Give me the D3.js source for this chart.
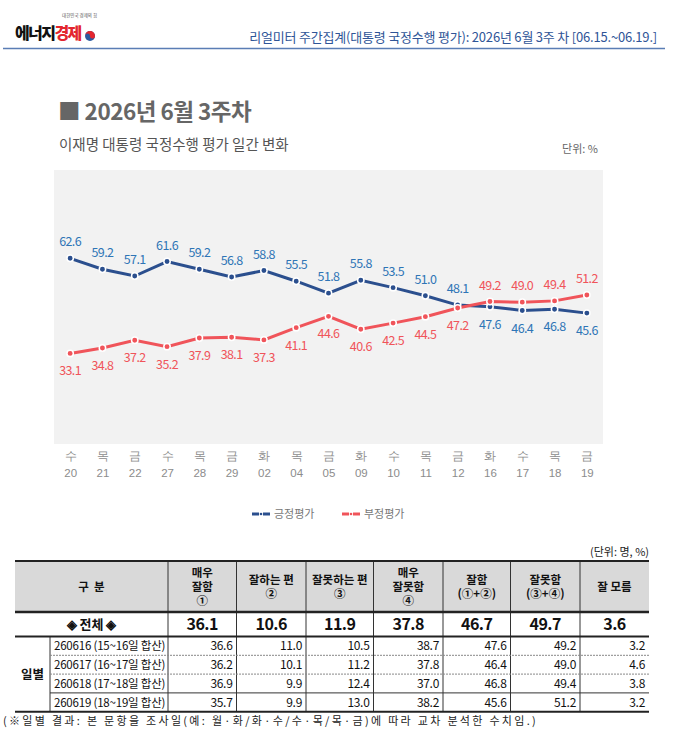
<!DOCTYPE html>
<html>
<head>
<meta charset="utf-8">
<script src="https://cdn.jsdelivr.net/npm/d3@7"></script>
<style>
  body { margin: 0; background: #fff; }
  svg { display: block; font-family: "Noto Sans CJK KR", "Noto Sans", sans-serif; }
</style>
</head>
<body>
<div id="chart"></div>
<script>
var svgWidth = 679;
var svgHeight = 754;

// daily approval data
var weekdays = ["수", "목", "금", "수", "목", "금", "화", "목", "금", "화", "수", "목", "금", "화", "수", "목", "금"];
var days = ["20", "21", "22", "27", "28", "29", "02", "04", "05", "09", "10", "11", "12", "16", "17", "18", "19"];
var positive = [62.6, 59.2, 57.1, 61.6, 59.2, 56.8, 58.8, 55.5, 51.8, 55.8, 53.5, 51.0, 48.1, 47.6, 46.4, 46.8, 45.6];
var negative = [33.1, 34.8, 37.2, 35.2, 37.9, 38.1, 37.3, 41.1, 44.6, 40.6, 42.5, 44.5, 47.2, 49.2, 49.0, 49.4, 51.2];

// table data
var tableHeaders = [["구  분"], ["매우", "잘함", "①"], ["잘하는 편", "②"], ["잘못하는 편", "③"], ["매우", "잘못함", "④"], ["잘함", "(①+②)"], ["잘못함", "(③+④)"], ["잘 모름"]];
var totalRow = [36.1, 10.6, 11.9, 37.8, 46.7, 49.7, 3.6];
var dailyLabels = ["260616 (15~16일 합산)", "260617 (16~17일 합산)", "260618 (17~18일 합산)", "260619 (18~19일 합산)"];
var dailyRows = [
  [36.6, 11.0, 10.5, 38.7, 47.6, 49.2, 3.2],
  [36.2, 10.1, 11.2, 37.8, 46.4, 49.0, 4.6],
  [36.9, 9.9, 12.4, 37.0, 46.8, 49.4, 3.8],
  [35.7, 9.9, 13.0, 38.2, 45.6, 51.2, 3.2]
];

var posColor = "#2b4f8e";
var posLabel = "#2e75b6";
var negColor = "#f0545a";

var svg = d3.select("#chart")
  .append("svg")
  .attr("width", svgWidth)
  .attr("height", svgHeight);

// ---- header ----
svg.append("text")
  .attr("x", 62).attr("y", 17)
  .attr("font-size", 4.5).attr("fill", "#555")
  .text("대한민국 경제의 힘");
var logo = svg.append("text")
  .attr("x", 15).attr("y", 39)
  .attr("font-size", 16).attr("font-weight", 900)
  .attr("letter-spacing", -1.6);
logo.append("tspan").attr("fill", "#111").text("에너지");
logo.append("tspan").attr("fill", "#e3262e").text("경제");
svg.append("circle").attr("cx", 90).attr("cy", 36).attr("r", 5).attr("fill", "#2c5aa0");
svg.append("path").attr("d", "M85,36 a5,5 0 0,1 10,0 a2.5,2.5 0 0,1 -5,0 a2.5,2.5 0 0,0 -5,0z").attr("fill", "#e3262e");

svg.append("text")
  .attr("x", 657).attr("y", 42)
  .attr("text-anchor", "end")
  .attr("font-size", 13).attr("fill", "#2f5597")
  .attr("letter-spacing", -0.2)
  .text("리얼미터 주간집계(대통령  국정수행  평가): 2026년 6월 3주 차 [06.15.~06.19.]");
svg.append("line")
  .attr("x1", 3).attr("x2", 665).attr("y1", 48.5).attr("y2", 48.5)
  .attr("stroke", "#5a7db5").attr("stroke-width", 1.5);

// ---- titles ----
svg.append("text")
  .attr("x", 58).attr("y", 120)
  .attr("font-size", 22.5).attr("font-weight", "bold").attr("fill", "#666")
  .attr("letter-spacing", -0.5)
  .text("■ 2026년 6월 3주차");
svg.append("text")
  .attr("x", 59).attr("y", 150)
  .attr("font-size", 14.5).attr("fill", "#555")
  .text("이재명 대통령 국정수행 평가 일간 변화");
svg.append("text")
  .attr("x", 598).attr("y", 153)
  .attr("text-anchor", "end")
  .attr("font-size", 11).attr("fill", "#666")
  .text("단위: %");

// ---- chart ----
var plot = { left: 54, right: 603, top: 170, bottom: 444 };

svg.append("rect")
  .attr("x", plot.left).attr("y", plot.top)
  .attr("width", plot.right - plot.left).attr("height", plot.bottom - plot.top)
  .attr("fill", "#f2f2f2");

var xScale = d3.scalePoint()
  .domain(d3.range(days.length))
  .range([plot.left, plot.right])
  .padding(0.5);

var yScale = d3.scaleLinear()
  .domain([5, 90])
  .range([plot.bottom, plot.top]);

var xAxis = d3.axisBottom(xScale).tickSize(0).tickFormat("");
var axisG = svg.append("g")
  .attr("transform", `translate(0, ${plot.bottom})`)
  .call(xAxis);
axisG.select(".domain").remove();
var tickText = axisG.selectAll(".tick").append("text")
  .attr("text-anchor", "middle")
  .attr("fill", "#8c8c8c")
  .attr("font-size", 11.5);
tickText.append("tspan").attr("x", 0).attr("y", 16).text(i => weekdays[i]);
tickText.append("tspan").attr("x", 0).attr("y", 33).text(i => days[i]);

var lineGen = d3.line()
  .x((d, i) => xScale(i))
  .y(d => yScale(d));

function drawSeries(values, lineColor, labelColor, labelAbove) {
  svg.append("path")
    .datum(values)
    .attr("fill", "none")
    .attr("stroke", lineColor)
    .attr("stroke-width", 3)
    .attr("d", lineGen);

  svg.append("g").selectAll("circle")
    .data(values)
    .enter()
    .append("circle")
    .attr("cx", (d, i) => xScale(i))
    .attr("cy", d => yScale(d))
    .attr("r", 3.2)
    .attr("fill", lineColor)
    .attr("stroke", "#fff")
    .attr("stroke-width", 1.5);

  svg.append("g").selectAll("text")
    .data(values)
    .enter()
    .append("text")
    .attr("x", (d, i) => xScale(i))
    .attr("y", (d, i) => yScale(d) + (labelAbove(i) ? -12 : 22))
    .attr("text-anchor", "middle")
    .attr("font-size", 12.5)
    .attr("letter-spacing", -0.6)
    .attr("fill", labelColor)
    .text(d => d.toFixed(1));
}

drawSeries(positive, posColor, posLabel, i => i < 13);
drawSeries(negative, negColor, negColor, i => i >= 13);

// legend
var legendItems = [
  { name: "긍정평가", color: posColor, x: 252 },
  { name: "부정평가", color: negColor, x: 342 }
];
var legend = svg.append("g").attr("transform", "translate(0, 514)");
legendItems.forEach(function (item) {
  var g = legend.append("g").attr("transform", `translate(${item.x}, 0)`);
  g.append("line").attr("x1", 0).attr("x2", 7).attr("y1", 0).attr("y2", 0)
    .attr("stroke", item.color).attr("stroke-width", 3);
  g.append("line").attr("x1", 11).attr("x2", 18).attr("y1", 0).attr("y2", 0)
    .attr("stroke", item.color).attr("stroke-width", 3);
  g.append("circle").attr("cx", 9).attr("cy", 0).attr("r", 1.3).attr("fill", item.color);
  g.append("text").attr("x", 22).attr("y", 4)
    .attr("font-size", 11).attr("fill", "#777")
    .text(item.name);
});

// ---- table ----
var colX = [15, 168, 236.5, 306, 373.5, 443, 510.5, 580, 649];
var innerSplit = 50;
var tTop = 561, headBottom = 612, totalBottom = 636.5;
var rowH = 18.8;

svg.append("text")
  .attr("x", 649).attr("y", 556)
  .attr("text-anchor", "end")
  .attr("font-size", 11).attr("fill", "#222")
  .text("(단위: 명, %)");

var table = svg.append("g");

table.append("rect")
  .attr("x", colX[0]).attr("y", tTop)
  .attr("width", colX[8] - colX[0]).attr("height", headBottom - tTop)
  .attr("fill", "#d9d9d9");

// header texts
tableHeaders.forEach(function (lines, c) {
  var cx = (colX[c] + colX[c + 1]) / 2;
  var cy = (tTop + headBottom) / 2;
  var lh = 14;
  var t = table.append("text")
    .attr("text-anchor", "middle")
    .attr("font-size", 11.5)
    .attr("font-weight", "bold")
    .attr("fill", "#111");
  lines.forEach(function (ln, k) {
    t.append("tspan")
      .attr("x", cx)
      .attr("y", cy + (k - (lines.length - 1) / 2) * lh + 4)
      .attr("xml:space", "preserve")
      .text(ln);
  });
});

// total row
table.append("text")
  .attr("x", (colX[0] + colX[1]) / 2).attr("y", (headBottom + totalBottom) / 2 + 5)
  .attr("text-anchor", "middle")
  .attr("font-size", 13).attr("font-weight", "bold").attr("fill", "#111")
  .text("◈ 전체 ◈");
totalRow.forEach(function (v, c) {
  table.append("text")
    .attr("x", (colX[c + 1] + colX[c + 2]) / 2)
    .attr("y", (headBottom + totalBottom) / 2 + 6)
    .attr("text-anchor", "middle")
    .attr("font-size", 16).attr("font-weight", "bold").attr("fill", "#111")
    .attr("letter-spacing", -0.5)
    .text(v.toFixed(1));
});

// daily rows
dailyRows.forEach(function (row, r) {
  var y0 = totalBottom + r * rowH;
  table.append("text")
    .attr("x", innerSplit + 4).attr("y", y0 + rowH / 2 + 4.5)
    .attr("font-size", 11.5).attr("fill", "#111")
    .attr("letter-spacing", -0.2)
    .text(dailyLabels[r]);
  row.forEach(function (v, c) {
    table.append("text")
      .attr("x", colX[c + 2] - 4).attr("y", y0 + rowH / 2 + 4.5)
      .attr("text-anchor", "end")
      .attr("font-size", 12).attr("fill", "#111")
      .attr("letter-spacing", -0.3)
      .text(v.toFixed(1));
  });
});
var tBottom = totalBottom + dailyRows.length * rowH;
table.append("text")
  .attr("x", (colX[0] + innerSplit) / 2).attr("y", (totalBottom + tBottom) / 2 + 4.5)
  .attr("text-anchor", "middle")
  .attr("font-size", 12.5).attr("font-weight", "bold").attr("fill", "#111")
  .text("일별");

// grid lines
colX.slice(1, 8).forEach(function (x) {
  table.append("line").attr("x1", x).attr("x2", x).attr("y1", tTop).attr("y2", tBottom)
    .attr("stroke", "#333").attr("stroke-width", 1);
});
table.append("line").attr("x1", innerSplit).attr("x2", innerSplit).attr("y1", totalBottom).attr("y2", tBottom)
  .attr("stroke", "#333").attr("stroke-width", 1);
[1, 2, 3].forEach(function (r) {
  var y = totalBottom + r * rowH;
  table.append("line").attr("x1", innerSplit).attr("x2", colX[8]).attr("y1", y).attr("y2", y)
    .attr("stroke", r === 3 ? "#333" : "#888").attr("stroke-width", 1)
    .attr("stroke-dasharray", r === 3 ? null : "2,1");
});
[tTop, headBottom, totalBottom, tBottom].forEach(function (y, k) {
  table.append("line").attr("x1", colX[0]).attr("x2", colX[8]).attr("y1", y).attr("y2", y)
    .attr("stroke", "#222").attr("stroke-width", k === 1 ? 2.5 : 2);
});

svg.append("text")
  .attr("x", 3).attr("y", 725)
  .attr("font-size", 11).attr("fill", "#222")
  .attr("letter-spacing", 2.3)
  .text("(※일별 결과: 본 문항을 조사일(예: 월·화/화·수/수·목/목·금)에 따라 교차 분석한 수치임.)");
</script>
</body>
</html>
